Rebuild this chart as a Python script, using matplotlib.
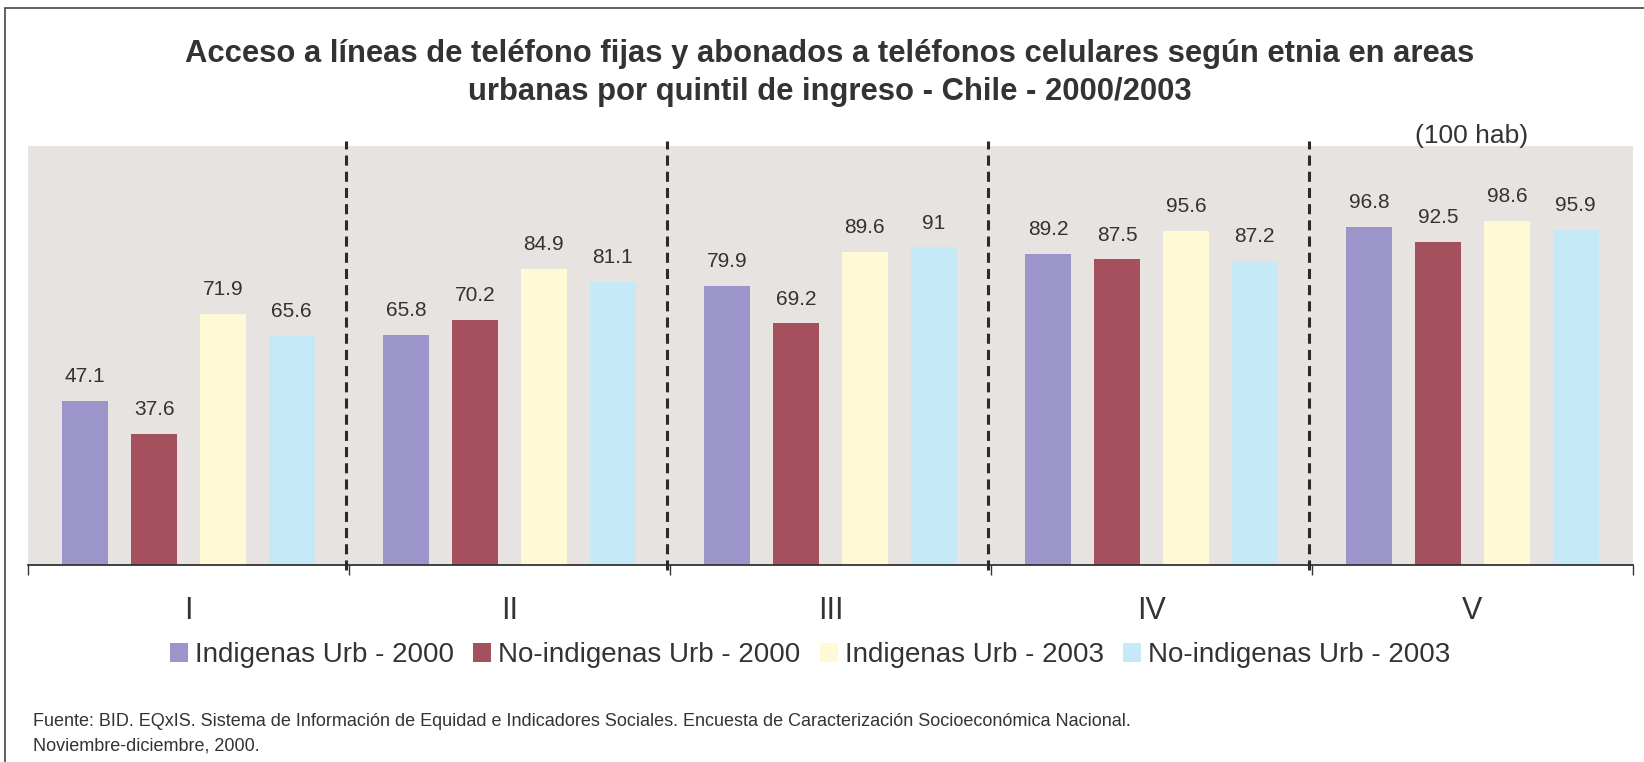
import matplotlib
matplotlib.use("Agg")
import matplotlib.pyplot as plt
import numpy as np
from matplotlib.patches import Rectangle, Patch

plt.rcParams['font.family'] = ['Liberation Sans', 'DejaVu Sans']

categories = ["I", "II", "III", "IV", "V"]
series_names = ["Indigenas Urb - 2000", "No-indigenas Urb - 2000",
                "Indigenas Urb - 2003", "No-indigenas Urb - 2003"]
indigenas_2000 = [47.1, 65.8, 79.9, 89.2, 96.8]
no_indigenas_2000 = [37.6, 70.2, 69.2, 87.5, 92.5]
indigenas_2003 = [71.9, 84.9, 89.6, 95.6, 98.6]
no_indigenas_2003 = [65.6, 81.1, 91.0, 87.2, 95.9]
value_labels = [
    ["47.1", "65.8", "79.9", "89.2", "96.8"],
    ["37.6", "70.2", "69.2", "87.5", "92.5"],
    ["71.9", "84.9", "89.6", "95.6", "98.6"],
    ["65.6", "81.1", "91", "87.2", "95.9"],
]
series = [indigenas_2000, no_indigenas_2000, indigenas_2003, no_indigenas_2003]
colors = ["#9B95C9", "#A4505D", "#FFF9D6", "#C6E9F8"]

title = ("Acceso a líneas de teléfono fijas y abonados a teléfonos celulares según etnia en areas\n"
         "urbanas por quintil de ingreso - Chile - 2000/2003")
unit_text = "(100 hab)"
footer = ("Fuente: BID. EQxIS. Sistema de Información de Equidad e Indicadores Sociales. "
          "Encuesta de Caracterización Socioeconómica Nacional.\nNoviembre-diciembre, 2000.")

TXT = "#333333"
W, H = 1644, 762
fig = plt.figure(figsize=(W / 100, H / 100), dpi=100)

# figure border (top/left visible)
fig.patches.append(Rectangle((5 / W, -0.1), 1.2, 1 - 8 / H + 0.1, transform=fig.transFigure,
                             fill=False, edgecolor="#444444", linewidth=1.2))

ax = fig.add_axes([28 / W, 1 - 565 / H, (1633 - 28) / W, (565 - 146) / H])
ax.set_facecolor("#E6E3E0")

x = np.arange(len(categories))
pitch = 0.2145
width = 0.143
for i, (vals, col) in enumerate(zip(series, colors)):
    pos = x + (i - 1.5) * pitch
    ax.bar(pos, vals, width=width, color=col, label=series_names[i], zorder=2)
    for px, v, lab in zip(pos, vals, value_labels[i]):
        ax.annotate(lab, (px, v), xytext=(0, 13.5), textcoords="offset points",
                    ha="center", va="baseline", fontsize=15, color=TXT)

ax.set_xlim(-0.5, 4.5)
ax.set_ylim(0, 120)
ax.set_yticks([])
for s in ["top", "left", "right"]:
    ax.spines[s].set_visible(False)
ax.spines["bottom"].set_color(TXT)
ax.spines["bottom"].set_linewidth(1.3)

ax.set_xticks(x)
ax.set_xticklabels(categories, fontsize=22, color=TXT)
ax.tick_params(axis="x", which="major", length=0, pad=22)
ax.set_xticks(np.arange(-0.5, 5, 1.0), minor=True)
ax.tick_params(axis="x", which="minor", length=7, width=1.0, color=TXT, direction="out")

# dashed separators
for b in [0.5, 1.5, 2.5, 3.5]:
    ax.plot([b - 0.008, b - 0.008], [-1.5, 121.5], color="#2b2b2b", linewidth=2.2,
            dashes=(3.3, 2.0), clip_on=False, zorder=3)

fig.text(830 / W, 1 - 73 / H, title, ha="center", va="center", fontsize=22.3,
         fontweight="bold", color=TXT, linespacing=1.36)
fig.text(1472 / W, 1 - 143 / H, unit_text, ha="center", va="baseline", fontsize=19, color=TXT)

handles = [Patch(facecolor=c, edgecolor="none") for c in colors]
fig.legend(handles, series_names, loc="center", bbox_to_anchor=(810 / W, 1 - 655 / H),
           ncol=4, frameon=False, fontsize=20, handlelength=0.65, handleheight=0.65,
           handletextpad=0.25, columnspacing=0.7, labelcolor=TXT, borderpad=0)

fig.text(33 / W, 1 - 734 / H, footer, ha="left", va="center", fontsize=13, color=TXT,
         linespacing=1.55)

fig.savefig("out.png", dpi=100)
